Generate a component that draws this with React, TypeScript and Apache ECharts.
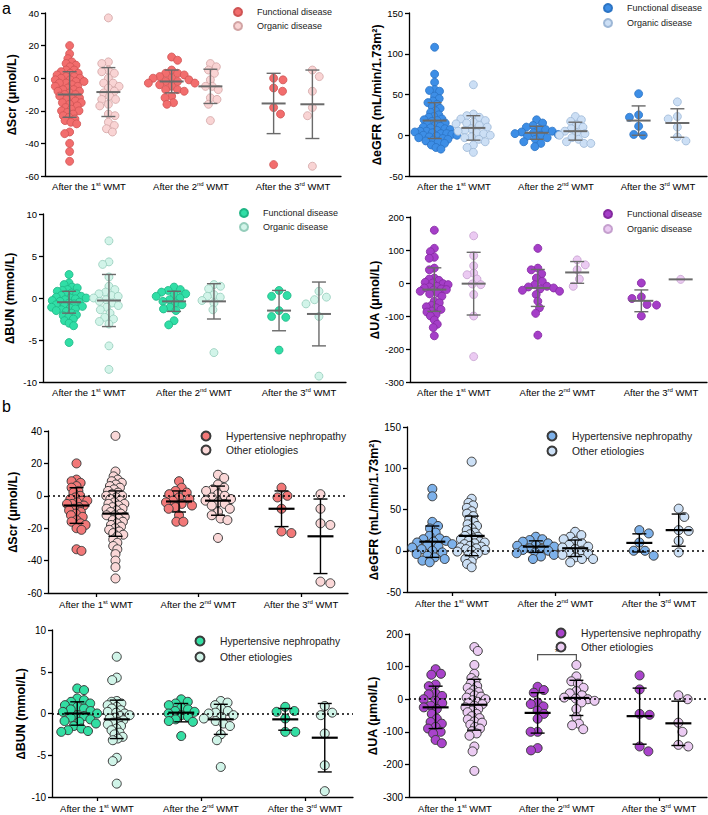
import { useEffect, useRef } from "react";
import * as echarts from "echarts";

// ---------------- DATA ----------------
const CATEGORY_NUMBERS = ["1", "2", "3"];
const CATEGORY_SUFFIX = ["st", "nd", "rd"];

// Panel a: Functional vs Organic disease
const aScrFunctional = [
  [20, 15, 12, 10, 9, 8, 7, 5, 5, 4, 3, 3, 2, 1, 1, 0, 0, -1, -1, -2, -2, -3, -3, -4, -5, -5, -6, -7, -7, -8, -8, -9, -10, -10, -11, -12, -12, -13, -14, -15, -15, -16, -17, -18, -19, -20, -20, -21, -22, -23, -24, -25, -26, -27, -28, -33, -34, -40, -45, -51],
  [13, 11, 5, 3, 3, 2, 1, 0, 0, -1, -2, -2, -3, -3, -4, -5, -7, -7, -8, -11, -12, -15, -16],
  [0, -1, -6, -8, -18, -22, -53],
];
const aScrOrganic = [
  [37, 10, 9, 5, 4, 3, 0, -3, -3, -5, -6, -8, -9, -11, -13, -13, -16, -17, -22, -23, -27, -29, -31, -33],
  [9, 7, 5, 3, -1, -5, -5, -7, -12, -13, -16, -26],
  [5, 1, -8, -18, -23, -54],
];
const aScrFunctionalMean = [-10, -2, -15.5];
const aScrFunctionalSD = [14, 7, 18.5];
const aScrOrganicMean = [-8.5, -5, -16];
const aScrOrganicSD = [15, 10.5, 21];

const aEgfrFunctional = [
  [108, 75, 65, 56, 55, 54, 48, 45, 42, 40, 38, 35, 33, 30, 28, 25, 23, 22, 20, 19, 18, 17, 15, 14, 12, 11, 10, 9, 8, 7, 6, 5, 5, 4, 3, 2, 2, 1, 0, 0, -1, -2, -3, -4, -5, -6, -7, -8, -10, -12, -15, -17],
  [19, 15, 12, 10, 8, 7, 5, 4, 3, 2, 1, 0, -1, -3, -5, -8, -10, -14],
  [51, 25, 22, 11, 1, 0],
];
const aEgfrOrganic = [
  [62, 26, 24, 22, 20, 18, 16, 15, 14, 12, 10, 8, 6, 5, 3, 2, 0, -2, -3, -5, -8, -12, -15, -21],
  [23, 19, 17, 13, 10, 8, 5, 3, 2, 0, -3, -5, -8, -10, -10],
  [41, 23, 20, 10, -2, -7],
];
const aEgfrFunctionalMean = [18, 3, 18];
const aEgfrFunctionalSD = [22, 8, 18];
const aEgfrOrganicMean = [9, 5, 15];
const aEgfrOrganicSD = [15, 11, 17.5];

const aBunFunctional = [
  [2.8, 1.8, 1.6, 1.3, 1.2, 1.0, 0.9, 0.8, 0.6, 0.5, 0.4, 0.3, 0.2, 0.1, 0, 0, -0.1, -0.2, -0.3, -0.4, -0.5, -0.6, -0.7, -0.8, -0.9, -1.0, -1.1, -1.2, -1.3, -1.4, -1.5, -1.6, -1.8, -2.0, -2.1, -2.3, -2.5, -2.7, -3.0, -3.3, -5.3],
  [1.3, 1.0, 0.9, 0.7, 0.5, 0.4, 0.2, 0, -0.2, -0.4, -0.6, -0.8, -1.1, -1.3, -1.5, -2.7, -3.2],
  [0.9, 0.3, 0.2, -1.5, -2.2, -2.3, -6.2],
];
const aBunOrganic = [
  [6.8, 4.3, 4.0, 2.5, 1.4, 1.0, 0.7, 0.5, 0.3, 0.2, 0, -0.2, -0.4, -0.6, -0.9, -1.1, -1.4, -1.8, -2.3, -2.5, -2.8, -3.1, -5.7, -8.5],
  [1.6, 1.4, 1.1, 0.4, 0.2, 0.1, -0.3, -0.6, -1.4, -6.5],
  [0.8, 0.1, -0.2, -0.7, -2.2, -9.3],
];
const aBunFunctionalMean = [-0.5, -0.4, -1.5];
const aBunFunctionalSD = [1.3, 1.2, 2.4];
const aBunOrganicMean = [-0.3, -0.4, -1.9];
const aBunOrganicSD = [3.1, 2.1, 3.8];

const aUaFunctional = [
  [160, 105, 95, 78, 75, 45, 40, 15, 12, 8, 2, 0, -2, -5, -10, -12, -15, -18, -20, -22, -25, -30, -33, -40, -55, -60, -68, -72, -75, -80, -85, -88, -95, -100, -112, -125, -135, -160],
  [105, 45, 40, 28, 15, 5, -5, -10, -12, -15, -18, -22, -25, -35, -55, -75, -92, -158],
  [0, -42, -47, -65, -67, -100],
];
const aUaOrganic = [
  [143, 83, 52, 30, 25, 12, -3, -5, -35, -100, -223],
  [70, 55, 40, 12, -10],
  [11],
];
const aUaFunctionalMean = [-20, -15, -54];
const aUaFunctionalSD = [66, 56, 33];
const aUaOrganicMean = [-2, 32, 11];
const aUaOrganicSD = [95, 33, 0];

// Panel b: Hypertensive nephropathy vs Other etiologies
const bScrHypertensive = [
  [20, 10, 9, 8, 6, 5, 3, 2, 0, -1, -2, -3, -3, -4, -5, -5, -6, -7, -8, -9, -10, -11, -12, -13, -15, -16, -17, -18, -20, -21, -33, -34],
  [9, 5, 3, 2, 1, -1, -2, -3, -4, -5, -6, -7, -8, -12, -16, -16],
  [5, 0, -1, -8, -22, -23],
];
const bScrOther = [
  [37, 15, 12, 10, 9, 8, 7, 6, 5, 4, 3, 2, 1, 0, 0, -1, -2, -3, -4, -5, -5, -6, -7, -8, -8, -9, -10, -11, -12, -12, -13, -14, -15, -16, -17, -18, -19, -20, -21, -22, -23, -24, -25, -27, -29, -31, -33, -36, -40, -44, -51],
  [13, 11, 7, 5, 4, 3, 1, 0, -1, -2, -3, -4, -5, -6, -8, -10, -12, -14, -15, -26],
  [1, -8, -17, -18, -53, -54],
];
const bScrHypertensiveMean = [-6, -3.5, -8];
const bScrHypertensiveSD = [11, 6.5, 11];
const bScrOtherMean = [-11, -3, -25];
const bScrOtherSD = [14, 9, 23];

const bEgfrHypertensive = [
  [75, 66, 35, 30, 27, 22, 18, 15, 14, 12, 11, 10, 8, 7, 5, 4, 2, 0, -2, -4, -6, -8, -10, -12, -14],
  [17, 14, 13, 11, 9, 7, 6, 5, 3, 2, 1, 0, -2, -3, -5, -7, -10],
  [25, 21, 10, 0, 0, -6],
];
const bEgfrOther = [
  [108, 63, 58, 55, 52, 48, 45, 42, 38, 35, 32, 30, 27, 25, 22, 20, 18, 17, 15, 14, 12, 11, 10, 9, 8, 6, 5, 4, 3, 2, 1, 0, -1, -3, -5, -7, -10, -13, -16, -20],
  [23, 19, 17, 14, 11, 9, 7, 5, 4, 2, 0, -2, -4, -5, -8, -10, -10, -14],
  [51, 41, 25, 24, 12, -2],
];
const bEgfrHypertensiveMean = [11, 5, 9.5];
const bEgfrHypertensiveSD = [19, 7, 11];
const bEgfrOtherMean = [18, 3, 25];
const bEgfrOtherSD = [24, 10, 19.5];

const bBunHypertensive = [
  [3.0, 2.8, 1.8, 1.6, 1.4, 1.2, 1.0, 0.8, 0.6, 0.5, 0.3, 0.2, 0, -0.2, -0.3, -0.5, -0.7, -0.9, -1.0, -1.2, -1.5, -1.8, -2.0, -2.1, -2.2],
  [1.7, 1.4, 1.2, 1.0, 0.7, 0.5, 0.3, 0.2, 0, -0.2, -0.4, -0.7, -0.9, -1.0, -2.7],
  [0.8, 0.3, 0.2, -0.6, -2.2, -2.2],
];
const bBunOther = [
  [6.8, 4.3, 4.0, 1.5, 1.4, 1.2, 1.0, 0.8, 0.6, 0.4, 0.2, 0.1, 0, -0.2, -0.3, -0.5, -0.6, -0.8, -1.0, -1.1, -1.3, -1.5, -1.8, -2.0, -2.3, -2.5, -2.8, -3.0, -3.2, -5.3, -5.7, -8.4],
  [1.5, 1.3, 1.0, 0.6, 0.3, 0.1, 0, -0.2, -0.4, -0.6, -0.9, -1.2, -1.5, -2.5, -3.2, -6.4],
  [0.9, 0.1, -0.2, -2.4, -6.2, -9.3],
];
const bBunHypertensiveMean = [0, 0.1, -0.7];
const bBunHypertensiveSD = [1.4, 1.1, 1.3];
const bBunOtherMean = [-0.7, -0.7, -2.9];
const bBunOtherSD = [2.3, 1.8, 4.1];

const bUaHypertensive = [
  [92, 78, 75, 45, 40, 18, 15, 10, 0, -5, -12, -20, -25, -30, -45, -60, -70, -75, -85, -90, -100, -105, -125, -135],
  [38, 28, 20, -10, -15, -22, -35, -45, -60, -100, -100, -150, -157],
  [73, 30, -45, -48, -145, -160],
];
const bUaOther = [
  [160, 148, 105, 78, 65, 55, 48, 40, 35, 28, 22, 18, 12, 8, 5, 0, -3, -8, -12, -15, -20, -25, -30, -35, -40, -45, -52, -58, -62, -68, -72, -78, -85, -90, -98, -105, -112, -145, -160, -220],
  [105, 70, 55, 48, 35, 25, 18, 12, 5, 2, 0, -5, -10, -30, -55, -75, -80, -92],
  [12, 0, -72, -100, -140, -145],
];
const bUaHypertensiveMean = [-25, -42, -52];
const bUaHypertensiveSD = [65, 62, 86];
const bUaOtherMean = [-17, 4, -74];
const bUaOtherSD = [78, 54, 68];

// significance bracket (b, ΔUA, 2nd WMT): [category, level]
const bUaBracket = [[2, 137]];

const aLegend = ["Functional disease", "Organic disease"];
const bLegend = ["Hypertensive nephropathy", "Other etiologies"];

// ---------------- LAYOUT / STYLE ----------------
const FONT = '"Liberation Sans", Arial, Helvetica, sans-serif';

type Panel = {
  part: "a" | "b";
  yName: string;
  min: number;
  max: number;
  interval: number;
  g1: number[][];
  g2: number[][];
  m1: number[];
  s1: number[];
  m2: number[];
  s2: number[];
  c1: string;
  b1: string;
  c2: string;
  b2: string;
  legend: string[];
  box: { left: number; top: number; width: number; height: number; p1: number; p3: number };
  leg: { x: number; y: number; gap: number };
  nameGap: number;
};

const panels: Panel[] = [
  {
    part: "a", yName: "{d|∆}{t|Scr (μmol/L)}", min: -60, max: 40, interval: 20,
    g1: aScrFunctional, g2: aScrOrganic, m1: aScrFunctionalMean, s1: aScrFunctionalSD, m2: aScrOrganicMean, s2: aScrOrganicSD,
    c1: "#F26D6D", b1: "#CF5454", c2: "#F9D4D4", b2: "#D2A4A4", legend: aLegend,
    box: { left: 45, top: 13, width: 296, height: 163, p1: 89, p3: 293 }, leg: { x: 237, y: 12, gap: 14 }, nameGap: 27,
  },
  {
    part: "a", yName: "{d|∆}{t|eGFR (mL/min/1.73m²)}", min: -50, max: 150, interval: 50,
    g1: aEgfrFunctional, g2: aEgfrOrganic, m1: aEgfrFunctionalMean, s1: aEgfrFunctionalSD, m2: aEgfrOrganicMean, s2: aEgfrOrganicSD,
    c1: "#3D8EE6", b1: "#2C74C4", c2: "#CCDFF5", b2: "#9DB7D6", legend: aLegend,
    box: { left: 409, top: 13, width: 298, height: 163, p1: 454, p3: 658 }, leg: { x: 607, y: 8, gap: 15 }, nameGap: 26,
  },
  {
    part: "a", yName: "{d|∆}{t|BUN (mmol/L)}", min: -10, max: 10, interval: 5,
    g1: aBunFunctional, g2: aBunOrganic, m1: aBunFunctionalMean, s1: aBunFunctionalSD, m2: aBunOrganicMean, s2: aBunOrganicSD,
    c1: "#30DEA6", b1: "#1FB585", c2: "#D2F4E9", b2: "#95CDBB", legend: aLegend,
    box: { left: 43, top: 214, width: 303, height: 168, p1: 89, p3: 299 }, leg: { x: 243, y: 213, gap: 14 }, nameGap: 27,
  },
  {
    part: "a", yName: "{d|∆}{t|UA (μmol/L)}", min: -300, max: 200, interval: 100,
    g1: aUaFunctional, g2: aUaOrganic, m1: aUaFunctionalMean, s1: aUaFunctionalSD, m2: aUaOrganicMean, s2: aUaOrganicSD,
    c1: "#A53EC8", b1: "#84299F", c2: "#EBCAF2", b2: "#C5A0CE", legend: aLegend,
    box: { left: 410, top: 217, width: 297, height: 165, p1: 454, p3: 661 }, leg: { x: 607, y: 214, gap: 15 }, nameGap: 25,
  },
  {
    part: "b", yName: "{d|∆}{t|Scr (μmol/L)}", min: -60, max: 40, interval: 20,
    g1: bScrHypertensive, g2: bScrOther, m1: bScrHypertensiveMean, s1: bScrHypertensiveSD, m2: bScrOtherMean, s2: bScrOtherSD,
    c1: "#F27878", b1: "#3a3a3a", c2: "#FAD7D7", b2: "#3a3a3a", legend: bLegend,
    box: { left: 48, top: 431, width: 300, height: 162, p1: 96, p3: 301 }, leg: { x: 205, y: 436, gap: 14 }, nameGap: 29,
  },
  {
    part: "b", yName: "{d|∆}{t|eGFR (mL/min/1.73m²)}", min: -50, max: 150, interval: 50,
    g1: bEgfrHypertensive, g2: bEgfrOther, m1: bEgfrHypertensiveMean, s1: bEgfrHypertensiveSD, m2: bEgfrOtherMean, s2: bEgfrOtherSD,
    c1: "#7DB1EA", b1: "#3a3a3a", c2: "#CCE0F6", b2: "#3a3a3a", legend: bLegend,
    box: { left: 407, top: 427, width: 300, height: 165, p1: 452, p3: 659 }, leg: { x: 551, y: 436, gap: 15 }, nameGap: 24,
  },
  {
    part: "b", yName: "{d|∆}{t|BUN (mmol/L)}", min: -10, max: 10, interval: 5,
    g1: bBunHypertensive, g2: bBunOther, m1: bBunHypertensiveMean, s1: bBunHypertensiveSD, m2: bBunOtherMean, s2: bBunOtherSD,
    c1: "#33DEA3", b1: "#3a3a3a", c2: "#D0F4E8", b2: "#3a3a3a", legend: bLegend,
    box: { left: 52, top: 630, width: 301, height: 167, p1: 97, p3: 305 }, leg: { x: 199, y: 641, gap: 16 }, nameGap: 23,
  },
  {
    part: "b", yName: "{d|∆}{t|UA (μmol/L)}", min: -300, max: 200, interval: 100,
    g1: bUaHypertensive, g2: bUaOther, m1: bUaHypertensiveMean, s1: bUaHypertensiveSD, m2: bUaOtherMean, s2: bUaOtherSD,
    c1: "#A943CB", b1: "#3a3a3a", c2: "#EBCBF2", b2: "#3a3a3a", legend: bLegend,
    box: { left: 409, top: 634, width: 298, height: 163, p1: 455, p3: 659 }, leg: { x: 560, y: 633, gap: 14 }, nameGap: 24,
  },
];

const SUB_OFFSET = 0.19;

// beeswarm layout (pixel offsets) so dots do not pile on one another
function swarm(values: number[], pxPerUnit: number, d: number): number[] {
  const order = values.map((_, i) => i).sort((a, b) => values[b] - values[a]);
  const placed: { x: number; y: number }[] = [];
  const out = new Array(values.length).fill(0);
  let flip = 1;
  for (const i of order) {
    const y = values[i] * pxPerUnit;
    const cands = [0];
    for (const p of placed) {
      const dy = Math.abs(p.y - y);
      if (dy < d) {
        const dx = Math.sqrt(d * d - dy * dy);
        cands.push(p.x + dx, p.x - dx);
      }
    }
    cands.sort((a, b) => Math.abs(a) - Math.abs(b) || (a - b) * flip);
    flip = -flip;
    for (const c of cands) {
      if (placed.every((p) => (p.x - c) ** 2 + (p.y - y) ** 2 >= d * d - 0.01)) {
        out[i] = c;
        placed.push({ x: c, y });
        break;
      }
    }
  }
  return out;
}

function collisionFor(n: number, isB: boolean) {
  if (n <= 8) return isB ? 10 : 9.5;
  if (n <= 26) return isB ? 7 : 6.8;
  return 5.2;
}

function buildOption() {
  const grids: any[] = [];
  const xAxes: any[] = [];
  const yAxes: any[] = [];
  const series: any[] = [];
  const legends: any[] = [];

  panels.forEach((p, gi) => {
    const B = p.box;
    const isB = p.part === "b";
    grids.push({ left: B.left, top: B.top, width: B.width, height: B.height });
    const k = (B.p3 - B.p1) / 2;
    const xmin = 1 - (B.p1 - B.left) / k;
    const xmax = xmin + B.width / k;
    const pxPerUnit = B.height / (p.max - p.min);
    const dotSize = isB ? 9 : 8;

    xAxes.push({
      type: "value",
      gridIndex: gi,
      min: xmin,
      max: xmax,
      splitLine: { show: false },
      axisLine: { show: true, onZero: false, lineStyle: { color: "#000", width: 1.3 } },
      axisTick: { show: isB, customValues: [1, 2, 3], length: 4, lineStyle: { color: "#000", width: 1.3 } },
      axisLabel: {
        customValues: [1, 2, 3],
        margin: isB ? 6 : 5,
        formatter: (v: number) => {
          const i = Math.round(v) - 1;
          return `{n|After the ${CATEGORY_NUMBERS[i]}}{s|${CATEGORY_SUFFIX[i]}}{n| WMT}`;
        },
        rich: {
          n: { fontSize: 9.5, color: "#000", fontFamily: FONT },
          s: { fontSize: 6, color: "#000", fontFamily: FONT, verticalAlign: "top" },
        },
      },
    });
    yAxes.push({
      type: "value",
      gridIndex: gi,
      min: p.min,
      max: p.max,
      interval: p.interval,
      splitLine: { show: false },
      axisLine: { show: true, onZero: false, lineStyle: { color: "#000", width: 1.3 } },
      axisTick: { show: true, length: 4, lineStyle: { color: "#000", width: 1.3 } },
      axisLabel: { fontSize: isB ? 10 : 9.5, color: "#000", margin: 6, fontFamily: FONT },
      name: p.yName,
      nameLocation: "middle",
      nameRotate: 90,
      nameGap: p.nameGap,
      nameTextStyle: {
        rich: {
          d: { fontSize: 12.5, fontStyle: "italic", fontWeight: "bold", color: "#000", fontFamily: FONT },
          t: { fontSize: 12.5, fontWeight: "bold", color: "#000", fontFamily: FONT },
        },
      },
    });

    const groups = [
      { vals: p.g1, mean: p.m1, sd: p.s1, color: p.c1, border: p.b1, side: -1, name: p.legend[0] + "@" + gi },
      { vals: p.g2, mean: p.m2, sd: p.s2, color: p.c2, border: p.b2, side: 1, name: p.legend[1] + "@" + gi },
    ];

    if (isB) {
      series.push({
        type: "scatter",
        xAxisIndex: gi,
        yAxisIndex: gi,
        data: [],
        z: 1,
        silent: true,
        markLine: {
          silent: true,
          symbol: ["none", "none"],
          label: { show: false },
          lineStyle: { type: [2, 3], color: "#000", width: 1.6 },
          data: [{ yAxis: 0 }],
        },
      });
    }

    groups.forEach((g) => {
      const data: number[][] = [];
      g.vals.forEach((vals, ci) => {
        const offs = swarm(vals, pxPerUnit, collisionFor(vals.length, isB));
        vals.forEach((v, j) => {
          data.push([ci + 1 + g.side * SUB_OFFSET + offs[j] / k, v]);
        });
      });
      series.push({
        type: "scatter",
        name: g.name,
        xAxisIndex: gi,
        yAxisIndex: gi,
        symbol: "circle",
        symbolSize: dotSize,
        data,
        z: 2,
        itemStyle: { color: g.color, borderColor: g.border, borderWidth: isB ? 1 : 0.8, opacity: 1 },
        emphasis: { disabled: true },
      });

      const barColor = isB ? "#000" : "#6a6a6a";
      series.push({
        type: "custom",
        xAxisIndex: gi,
        yAxisIndex: gi,
        z: 3,
        silent: true,
        encode: { x: 0, y: 1 },
        data: g.mean.map((m, ci) => [ci + 1 + g.side * SUB_OFFSET, m, g.sd[ci]]),
        renderItem: (_params: any, api: any) => {
          const x = api.value(0) as number;
          const m = api.value(1) as number;
          const s = api.value(2) as number;
          const c = api.coord([x, m]);
          const ch: any[] = [];
          const meanHalf = isB ? 13 : 12;
          const capHalf = 7;
          const st = { stroke: barColor, lineWidth: 1.4 };
          if (s > 0) {
            const t = api.coord([x, m + s]);
            const b = api.coord([x, m - s]);
            ch.push({ type: "line", shape: { x1: c[0], y1: t[1], x2: c[0], y2: b[1] }, style: st });
            ch.push({ type: "line", shape: { x1: c[0] - capHalf, y1: t[1], x2: c[0] + capHalf, y2: t[1] }, style: st });
            ch.push({ type: "line", shape: { x1: c[0] - capHalf, y1: b[1], x2: c[0] + capHalf, y2: b[1] }, style: st });
          }
          ch.push({
            type: "line",
            shape: { x1: c[0] - meanHalf, y1: c[1], x2: c[0] + meanHalf, y2: c[1] },
            style: { stroke: barColor, lineWidth: isB ? 2.2 : 2 },
          });
          return { type: "group", children: ch };
        },
      });
    });

    // legend
    const fs = isB ? 10.3 : 9;
    const iw = isB ? 9 : 8;
    const textOffset = isB ? 20 : 19;
    legends.push({
      show: true,
      orient: "vertical",
      left: p.leg.x - iw / 2,
      top: p.leg.y - p.leg.gap / 2,
      padding: 0,
      itemGap: 0,
      itemWidth: iw,
      itemHeight: iw,
      icon: "circle",
      selectedMode: false,
      data: groups.map((g) => g.name),
      formatter: (n: string) => n.split("@")[0],
      textStyle: {
        fontSize: fs,
        lineHeight: p.leg.gap,
        color: "#222",
        fontFamily: FONT,
        padding: [0, 0, 0, textOffset - iw / 2 - 5],
      },
    });

    if (gi === 7) {
      series.push({
        type: "custom",
        xAxisIndex: gi,
        yAxisIndex: gi,
        z: 4,
        silent: true,
        encode: { x: 0, y: 1 },
        data: bUaBracket,
        renderItem: (_params: any, api: any) => {
          const cat = api.value(0) as number;
          const lvl = api.value(1) as number;
          const l = api.coord([cat - SUB_OFFSET, lvl]);
          const r = api.coord([cat + SUB_OFFSET, lvl]);
          return {
            type: "group",
            children: [
              {
                type: "polyline",
                shape: { points: [[l[0], l[1] + 6], [l[0], l[1]], [r[0], r[1]], [r[0], r[1] + 6]] },
                style: { stroke: "#555", lineWidth: 1.2, fill: null },
              },
              {
                type: "text",
                x: (l[0] + r[0]) / 2,
                y: l[1] + 3,
                style: { text: "*", fontSize: 11, fill: "#333", align: "center", verticalAlign: "bottom", fontFamily: FONT },
              },
            ],
          };
        },
      });
    }
  });

  return {
    animation: false,
    backgroundColor: "#fff",
    textStyle: { fontFamily: FONT },
    grid: grids,
    xAxis: xAxes,
    yAxis: yAxes,
    legend: legends,
    series,
    graphic: [
      { type: "text", left: 2, top: 0, style: { text: "a", fontSize: 16, fill: "#000", fontFamily: FONT } },
      { type: "text", left: 2, top: 398, style: { text: "b", fontSize: 16, fill: "#000", fontFamily: FONT } },
    ],
  };
}

export default function App() {
  const ref = useRef<HTMLDivElement>(null);
  useEffect(() => {
    if (!ref.current) return;
    const chart = echarts.init(ref.current, undefined, { renderer: "svg" });
    chart.setOption(buildOption() as any);
    return () => chart.dispose();
  }, []);
  return <div ref={ref} style={{ position: "absolute", left: 0, top: 0, width: 708, height: 815 }} />;
}
